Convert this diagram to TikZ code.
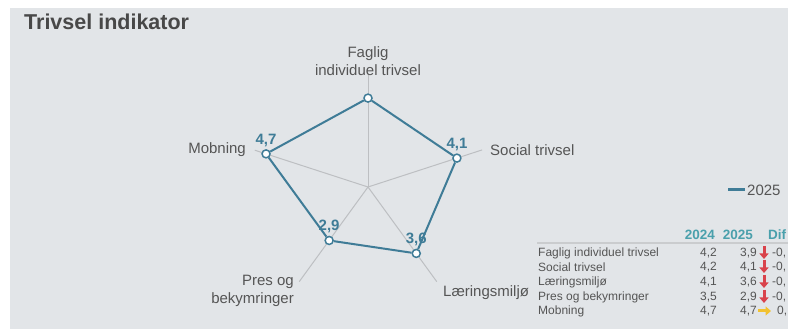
\documentclass[tikz,border=0pt]{standalone}
\usepackage{fontspec}
\setmainfont{Liberation Sans}
\usetikzlibrary{positioning,arrows.meta}
\definecolor{baggrund}{HTML}{E2E5E8}
\definecolor{serie}{HTML}{3F7C97}
\definecolor{hoved}{HTML}{4AA0AC}
\definecolor{tekst}{HTML}{555555}
\definecolor{akse}{HTML}{BDBFC2}
\definecolor{ned}{HTML}{D9434B}
\definecolor{lige}{HTML}{F2C230}

\begin{document}
\begin{tikzpicture}[x=1pt,y=1pt]
      \tikzstyle{punkt}=[circle,draw=serie,fill=white,line width=1.5pt,inner sep=0pt,minimum size=8pt]
      \tikzstyle{linje}=[serie,line width=2pt,line join=round]
      \tikzstyle{aksel}=[akse,line width=1pt]
      \tikzstyle{navn}=[text=tekst,font=\fontsize{15}{18}\selectfont,inner sep=0pt]
      \tikzstyle{vaerdi}=[text=serie,font=\fontsize{15}{16}\selectfont\bfseries,inner sep=1pt]
      \tikzstyle{raekke}=[text=tekst,font=\fontsize{12}{14}\selectfont,inner sep=0pt]
      \tikzstyle{kolonne}=[text=hoved,font=\fontsize{13.5}{15}\selectfont\bfseries,inner sep=0pt]
      \tikzstyle{nedpil}=[ned,line width=3pt,-{Triangle[width=9pt,length=5.5pt]}]
      \tikzstyle{hoejrepil}=[lige,line width=3pt,-{Triangle[width=9pt,length=5.5pt]}]
      \useasboundingbox (0,0) rectangle (790,329);
      \fill[white] (0,0) rectangle (790,329);
      \fill[baggrund] (10,0) rectangle (788,321);
      % titel
      \node[anchor=base west,inner sep=0pt,text=tekst!85!black,font=\fontsize{21.5}{24}\selectfont\bfseries] (titel) at (24,299) {Trivsel indikator};
      % akser
      \coordinate (o) at (368,142);
      \coordinate (a1) at ([shift={(90:113)}]o);
      \coordinate (a2) at ([shift={(18:120)}]o);
      \coordinate (a3) at ([shift={(-54:117)}]o);
      \coordinate (a4) at ([shift={(-126:117)}]o);
      \coordinate (a5) at ([shift={(162:119)}]o);
      \draw[aksel] (o)--(a1);
      \draw[aksel] (o)--(a2);
      \draw[aksel] (o)--(a3);
      \draw[aksel] (o)--(a4);
      \draw[aksel] (o)--(a5);
      \node[navn,align=center] (n1) at (368,268) {Faglig\\individuel trivsel};
      \node[navn,anchor=west] (n2) at (490,179) {Social trivsel};
      \node[navn,anchor=west] (n3) at (443,36) {Læringsmiljø};
      \node[navn,anchor=east,align=right] (n4) at (294,38) {Pres og\\bekymringer};
      \node[navn,anchor=east] (n5) at (246,179) {Mobning};
      % 2025
      \node[punkt] (p1) at ([shift={(90:88.9)}]o) {};
      \node[punkt] (p2) at ([shift={(18:93.5)}]o) {};
      \node[punkt] (p3) at ([shift={(-54:82.1)}]o) {};
      \node[punkt] (p4) at ([shift={(-126:66.1)}]o) {};
      \node[punkt] (p5) at ([shift={(162:107.2)}]o) {};
      \draw[linje] (p1)--(p2);
      \draw[linje] (p2)--(p3);
      \draw[linje] (p3)--(p4);
      \draw[linje] (p4)--(p5);
      \draw[linje] (p5)--(p1);
      \node[vaerdi,above=1.5pt of p2] (v2) {4,1};
      \node[vaerdi,above=1.5pt of p3] (v3) {3,6};
      \node[vaerdi,above=1.5pt of p4] (v4) {2,9};
      \node[vaerdi,above=1.5pt of p5] (v5) {4,7};
      % forklaring
      \coordinate (f1) at (728,139);
      \coordinate (f2) at (745,139);
      \draw[serie,line width=3pt] (f1)--(f2);
      \node[navn,anchor=west] (f) at (747,139) {2025};
      % tabel
      \node[kolonne,anchor=east] (k1) at (715,94) {2024};
      \node[kolonne,anchor=east] (k2) at (753,94) {2025};
      \node[kolonne,anchor=west] (k3) at (768,94) {Dif};
      \coordinate (s1) at (537,86);
      \coordinate (s2) at (788,86);
      \draw[akse!80!white,line width=1.2pt] (s1)--(s2);
      \node[raekke,anchor=west] (r1) at (538,76) {Faglig individuel trivsel};
      \node[raekke,anchor=west] (r2) at (538,62) {Social trivsel};
      \node[raekke,anchor=west] (r3) at (538,47) {Læringsmiljø};
      \node[raekke,anchor=west] (r4) at (538,32) {Pres og bekymringer};
      \node[raekke,anchor=west] (r5) at (538,18) {Mobning};
      \node[raekke,anchor=east] (x1) at (717,76) {4,2};
      \node[raekke,anchor=east] (x2) at (717,62) {4,2};
      \node[raekke,anchor=east] (x3) at (717,47) {4,1};
      \node[raekke,anchor=east] (x4) at (717,32) {3,5};
      \node[raekke,anchor=east] (x5) at (717,18) {4,7};
      \node[raekke,anchor=east] (y1) at (757,76) {3,9};
      \node[raekke,anchor=east] (y2) at (757,62) {4,1};
      \node[raekke,anchor=east] (y3) at (757,47) {3,6};
      \node[raekke,anchor=east] (y4) at (757,32) {2,9};
      \node[raekke,anchor=east] (y5) at (757,18) {4,7};
      \draw[nedpil] (764,83)--(764,70);
      \draw[nedpil] (764,69)--(764,56);
      \draw[nedpil] (764,54)--(764,41);
      \draw[nedpil] (764,39)--(764,26);
      \draw[hoejrepil] (758,18)--(771,18);
      \node[raekke,anchor=west] (d1) at (772,76) {-0,};
      \node[raekke,anchor=west] (d2) at (772,62) {-0,};
      \node[raekke,anchor=west] (d3) at (772,47) {-0,};
      \node[raekke,anchor=west] (d4) at (772,32) {-0,};
      \node[raekke,anchor=west] (d5) at (777,18) {0,};
\end{tikzpicture}
\end{document}
